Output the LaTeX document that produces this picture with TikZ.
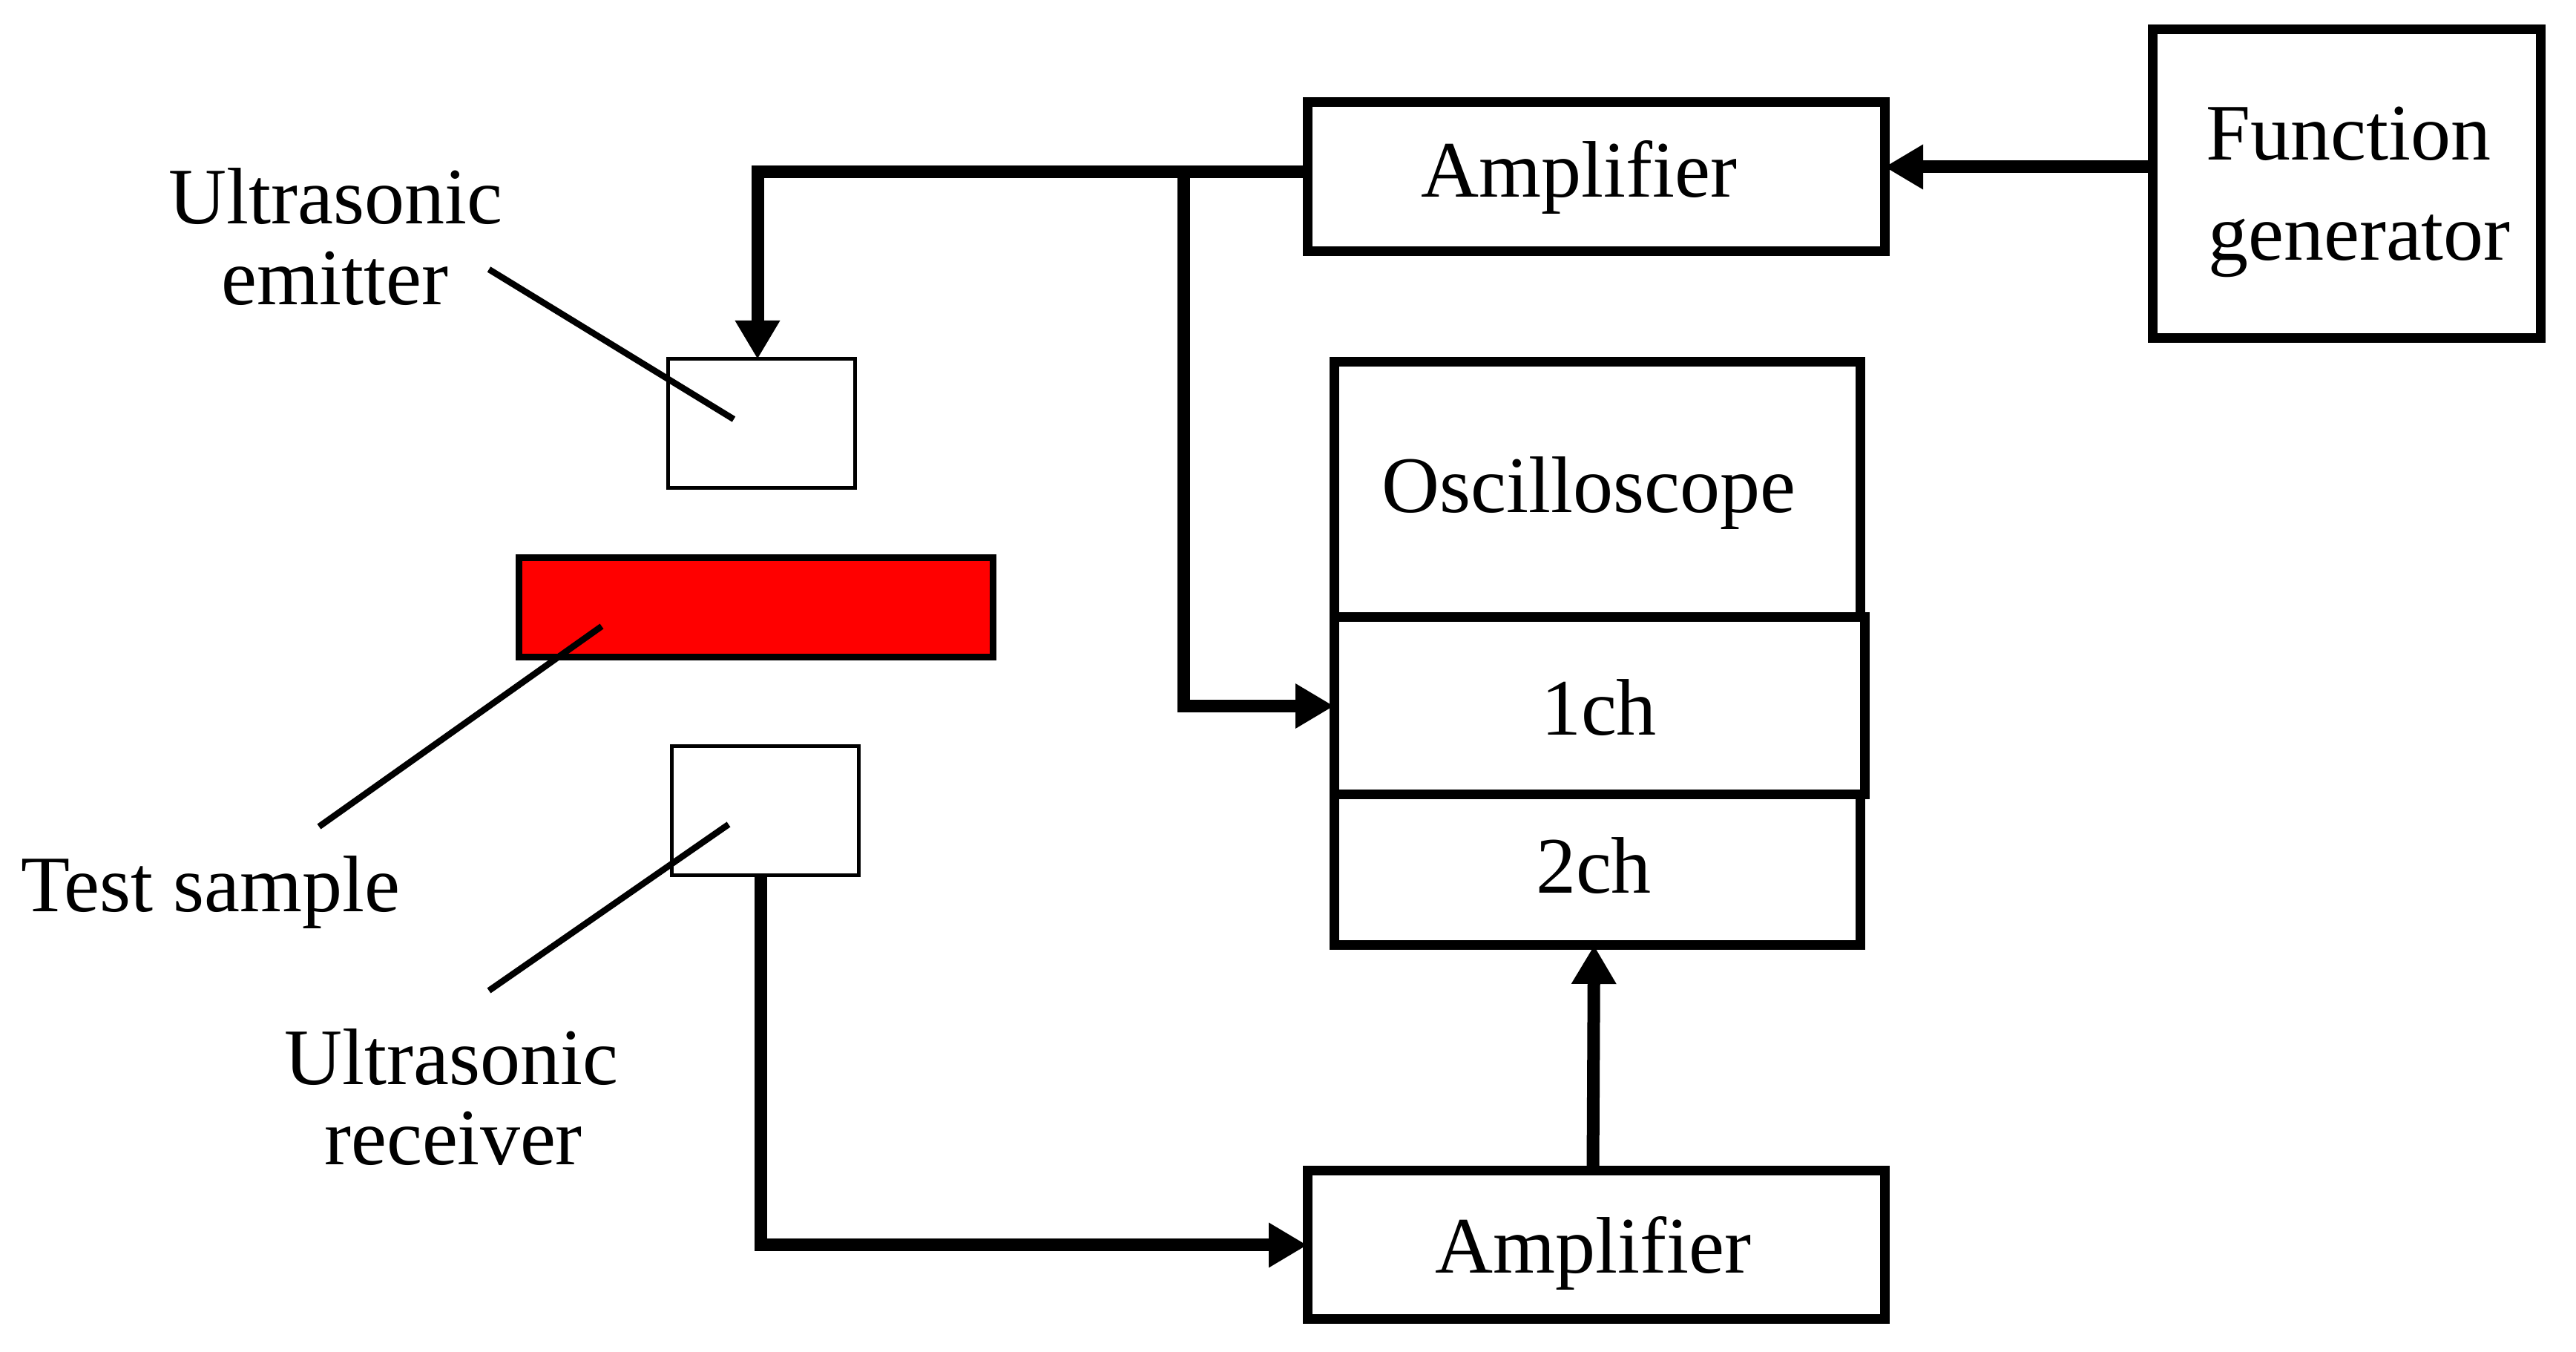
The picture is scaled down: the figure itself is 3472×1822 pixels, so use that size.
\documentclass[tikz,border=0pt]{standalone}
\usepackage{fontspec}
\setmainfont{Liberation Serif}
\usetikzlibrary{arrows.meta}
\begin{document}
\begin{tikzpicture}[x=0.2pt,y=-0.2pt,
  box/.style={draw,line width=2.6pt,inner sep=0pt,outer sep=0pt},
  thinbox/.style={draw,line width=1pt,inner sep=0pt,outer sep=0pt},
  samplebox/.style={draw,line width=1.8pt,fill=red,inner sep=0pt,outer sep=0pt},
  lab/.style={anchor=base,inner sep=0pt,font=\fontsize{21.6}{26}\selectfont},
  wire/.style={line width=3.4pt,line join=miter},
  arr/.style={wire,-{Triangle[length=10.4pt,width=11.4pt]}},
  leader/.style={line width=1.7pt}]
\useasboundingbox (0,0) rectangle (3472,1822);
% boxes
\node[box,minimum width=155.6pt,minimum height=40.2pt] (amp1) at (2151,238.5) {};
\node[box,minimum width=104.6pt,minimum height=83.2pt] (fg) at (3162.5,248) {};
\node[box,minimum width=141.8pt,minimum height=68.8pt] (osc) at (2152.5,660) {};
\node[box,minimum width=143pt,minimum height=47.8pt] (ch1) at (2155.5,951.5) {};
\node[box,minimum width=141.8pt,minimum height=40.6pt] (ch2) at (2152.5,1172.5) {};
\node[box,minimum width=155.6pt,minimum height=40pt] (amp2) at (2151,1678) {};
\node[thinbox,minimum width=50.4pt,minimum height=34.8pt] (emit) at (1026,571) {};
\node[samplebox,minimum width=127.6pt,minimum height=26.8pt] (sample) at (1019,819) {};
\node[thinbox,minimum width=50.4pt,minimum height=34.8pt] (recv) at (1031,1093) {};
% texts
\node[lab] (t1a) at (452,302) {Ultrasonic};
\node[lab] (t1b) at (451,411) {emitter};
\node[lab] (t2) at (284,1229) {Test sample};
\node[lab] (t3a) at (608,1462) {Ultrasonic};
\node[lab] (t3b) at (611,1570) {receiver};
\node[lab] (tamp1) at (2128,266) {Amplifier};
\node[lab] (tfa) at (3165,216) {Function};
\node[lab] (tfb) at (3180,351) {generator};
\node[lab] (tosc) at (2141,691) {Oscilloscope};
\node[lab] (tch1) at (2155,991) {1ch};
\node[lab] (tch2) at (2148,1204) {2ch};
\node[lab] (tamp2) at (2147,1716) {Amplifier};
% connectors
\coordinate (fgy) at (0,225);
\coordinate (ey) at (0,232);
\coordinate (j) at (1595,232);
\draw[arr] (amp1.west |- ey) -| ([xshift=-1pt]emit.north);
\draw[arr] (j) |- (ch1.west);
\draw[arr] (fg.west |- fgy) -- (amp1.east |- fgy);
\draw[arr] ([xshift=-1.2pt]recv.south) |- (amp2.west);
\draw[arr] ([xshift=-0.8pt]amp2.north) -- ([xshift=-0.8pt]ch2.south);
% leader lines
\coordinate (le1) at (659,363);
\coordinate (le2) at (989,565);
\coordinate (ls1) at (811,844);
\coordinate (ls2) at (430,1114);
\coordinate (lr1) at (982,1111);
\coordinate (lr2) at (659,1335);
\draw[leader] (le1) -- (le2);
\draw[leader] (ls1) -- (ls2);
\draw[leader] (lr1) -- (lr2);
\end{tikzpicture}
\end{document}
